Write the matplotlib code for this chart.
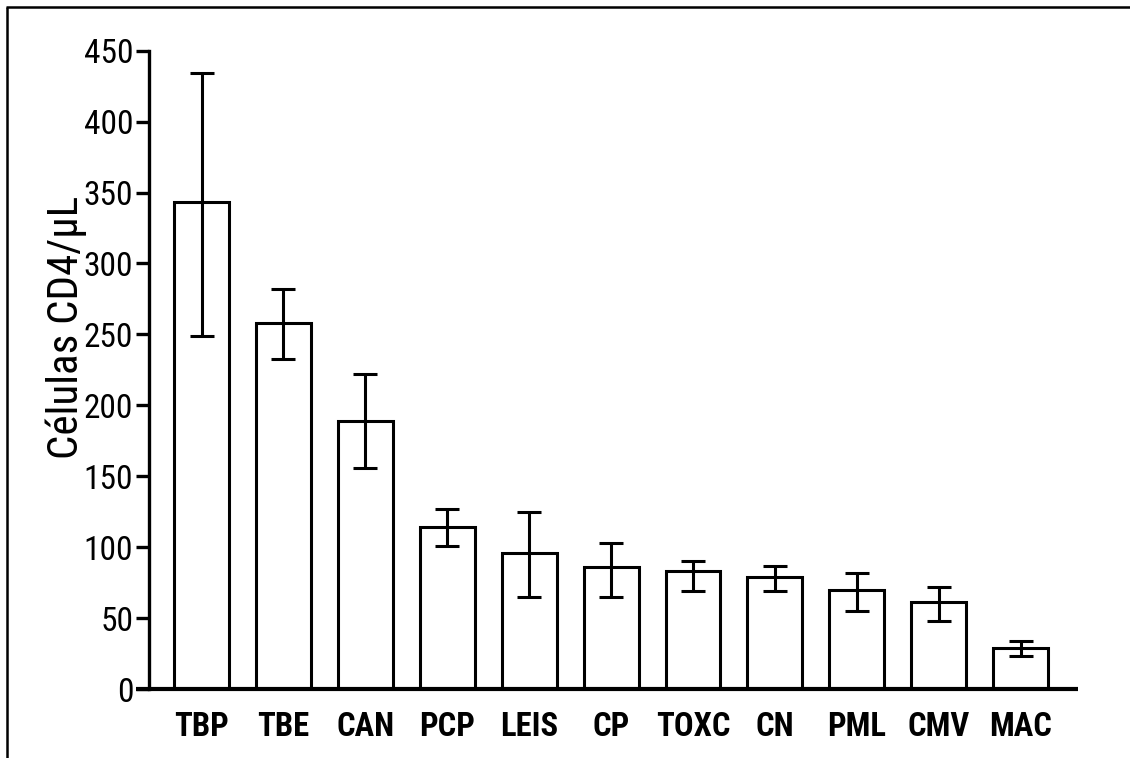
import matplotlib
matplotlib.use("Agg")
import matplotlib.pyplot as plt
from matplotlib.lines import Line2D

categories = ["TBP", "TBE", "CAN", "PCP", "LEIS", "CP", "TOXC", "CN", "PML", "CMV", "MAC"]
means = [343, 258, 189, 114, 96, 86, 83, 79, 70, 61, 29]
err_upper = [434, 282, 222, 127, 125, 103, 90, 87, 82, 72, 34]
err_lower = [249, 233, 156, 101, 65, 65, 69, 69, 55, 48, 23]
yticks = [0, 50, 100, 150, 200, 250, 300, 350, 400, 450]

plt.rcParams['font.family'] = ['Roboto Condensed', 'Liberation Sans', 'DejaVu Sans']

W, H = 1130, 758
fig = plt.figure(figsize=(W / 100, H / 100), dpi=100)
ax = fig.add_axes([136 / W, (H - 689) / H, (1078 - 136) / W, (689 - 50.7) / H])

x = list(range(len(categories)))
yerr = [[m - lo for m, lo in zip(means, err_lower)],
        [hi - m for m, hi in zip(means, err_upper)]]
ax.bar(x, means, width=0.67, color="white", edgecolor="black", linewidth=2.2, zorder=2)
ax.errorbar(x, means, yerr=yerr, fmt="none", ecolor="black", elinewidth=2.2,
            capsize=8.6, capthick=2.2, zorder=3)

for s in ["top", "right"]:
    ax.spines[s].set_visible(False)
ax.spines["left"].set_position(("data", -0.64))
ax.spines["left"].set_linewidth(2.4)
ax.spines["bottom"].set_linewidth(3.0)
ax.spines["bottom"].set_capstyle("butt")

ax.set_xlim(-0.80, 10.70)
ax.set_ylim(0, 450)
ax.set_yticks(yticks)
ax.set_yticklabels([str(t) for t in yticks])
ax.set_xticks(x)
ax.set_xticklabels(categories, fontweight="bold")
ax.tick_params(axis="x", length=0, pad=16, labelsize=23.5)
ax.tick_params(axis="y", direction="out", length=9.4, width=2.4, pad=2, labelsize=24)

ax.set_ylabel("Células CD4/µL", fontsize=31)
ax.yaxis.set_label_coords(-0.052, 0.566)

# outer frame lines (top and left)
fig.add_artist(Line2D([6 / W, 1.0], [1 - 6.5 / H, 1 - 6.5 / H], transform=fig.transFigure,
                      color="black", linewidth=1.8, solid_capstyle="butt"))
fig.add_artist(Line2D([6.5 / W, 6.5 / W], [0, 1 - 6.5 / H], transform=fig.transFigure,
                      color="black", linewidth=1.8, solid_capstyle="butt"))

fig.savefig("out.png", dpi=100)
